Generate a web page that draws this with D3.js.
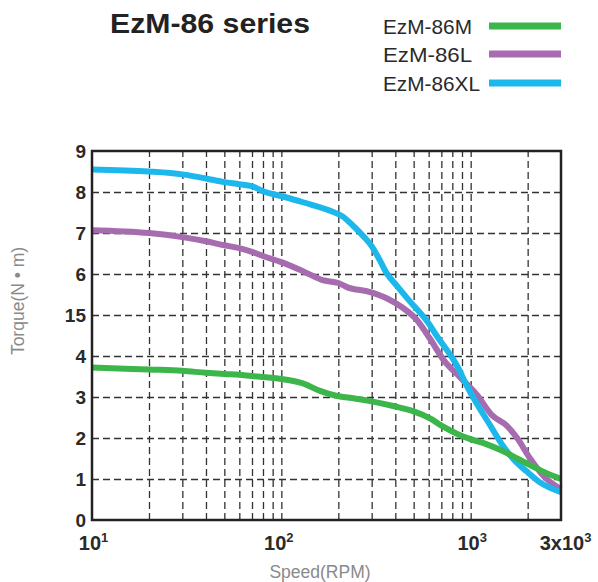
<!DOCTYPE html>
<html><head><meta charset="utf-8">
<script src="https://cdn.jsdelivr.net/npm/d3@7"></script>
<style>
html,body{margin:0;padding:0;background:#fff;}
svg{display:block;font-family:"Liberation Sans",Arial,Helvetica,sans-serif;}
</style></head>
<body>
<svg id="c" width="598" height="582"></svg>
<script>
// ---- data ----
const title = "EzM-86 series";
const seriesNames = ["EzM-86M", "EzM-86L", "EzM-86XL"];
const seriesColors = ["#3cb54a", "#a66caf", "#1cb8ec"];

const speedM  = [10, 20, 30, 40, 50, 60, 70, 80, 100, 130, 160, 195, 230, 295, 390, 500, 610, 720, 850, 990, 1210, 1480, 1760, 2060, 2420, 3000];
const torqueM = [3.72, 3.67, 3.64, 3.59, 3.56, 3.54, 3.51, 3.49, 3.44, 3.33, 3.15, 3.03, 2.98, 2.9, 2.78, 2.65, 2.48, 2.27, 2.1, 1.98, 1.85, 1.68, 1.5, 1.34, 1.18, 1.0];

const speedL  = [10, 20, 30, 40, 50, 60, 70, 80, 100, 130, 165, 200, 222, 295, 360, 440, 520, 610, 720, 880, 1080, 1300, 1550, 1760, 2060, 2420, 3000];
const torqueL = [7.07, 7.0, 6.9, 6.8, 6.7, 6.63, 6.54, 6.44, 6.29, 6.07, 5.85, 5.78, 5.68, 5.56, 5.41, 5.17, 4.88, 4.42, 3.9, 3.48, 3.05, 2.55, 2.3, 2.0, 1.5, 1.08, 0.75];

const speedXL  = [10, 20, 30, 40, 50, 60, 70, 80, 100, 130, 200, 210, 240, 270, 300, 330, 360, 410, 480, 590, 660, 850, 960, 1080, 1260, 1470, 1670, 1980, 2300, 3000];
const torqueXL = [8.55, 8.5, 8.43, 8.33, 8.24, 8.19, 8.14, 8.02, 7.9, 7.75, 7.46, 7.41, 7.17, 6.93, 6.68, 6.35, 6.02, 5.7, 5.32, 4.84, 4.5, 3.75, 3.25, 2.83, 2.33, 1.83, 1.5, 1.18, 0.93, 0.68];

const torqueTicks = [0, 1, 2, 3, 4, 5, 6, 7, 8, 9];
const torqueTickLabels = ["0", "1", "2", "3", "4", "15", "6", "7", "8", "9"];
const speedTicks = [10, 100, 1000, 3000];
const speedTickBase = ["10", "10", "10", "3x10"];
const speedTickExp = ["1", "2", "3", "3"];
const gridSpeeds = [20, 30, 40, 50, 60, 70, 80, 90, 100, 200, 300, 400, 500, 600, 700, 800, 900, 1000, 2000];
const gridTorques = [1, 2, 3, 4, 5, 6, 7, 8];
const xTitle = "Speed(RPM)";
const yTitle = "Torque(N • m)";

// ---- layout ----
const L = 92, R = 561, T = 151, B = 520;
const svg = d3.select("#c");
const x = d3.scaleLog().domain([10, 3000]).range([L, R]);
const y = d3.scaleLinear().domain([0, 9]).range([B, T]);

// grid
const gv = svg.append("g").attr("transform", `translate(0,${B})`)
  .call(d3.axisBottom(x).tickValues(gridSpeeds).tickSize(-(B - T)).tickFormat(""));
gv.select(".domain").remove();
gv.selectAll("line").attr("stroke", "#333").attr("stroke-width", 1.3).attr("stroke-dasharray", "7,4");

const gh = svg.append("g").attr("transform", `translate(${L},0)`)
  .call(d3.axisLeft(y).tickValues(gridTorques).tickSize(-(R - L)).tickFormat(""));
gh.select(".domain").remove();
gh.selectAll("line").attr("stroke", "#333").attr("stroke-width", 1.3).attr("stroke-dasharray", "7,4");

// curves
const series = [
  {s: speedL, t: torqueL, c: seriesColors[1]},
  {s: speedXL, t: torqueXL, c: seriesColors[2]},
  {s: speedM, t: torqueM, c: seriesColors[0]}
];
const gen = d3.line().x(d => x(d[0])).y(d => y(d[1])).curve(d3.curveMonotoneX);
series.forEach(se => {
  svg.append("path").datum(se.s.map((v, i) => [v, se.t[i]]))
    .attr("d", gen).attr("fill", "none").attr("stroke", se.c)
    .attr("stroke-width", 6).attr("stroke-linejoin", "round").attr("stroke-linecap", "butt");
});

// frame
svg.append("rect").attr("x", L).attr("y", T).attr("width", R - L).attr("height", B - T)
  .attr("fill", "none").attr("stroke", "#222").attr("stroke-width", 2.5);

// y tick labels
const ya = svg.append("g").attr("transform", `translate(${L},0)`)
  .call(d3.axisLeft(y).tickValues(torqueTicks).tickSize(0).tickPadding(6)
    .tickFormat((d, i) => torqueTickLabels[i]));
ya.select(".domain").remove();
ya.selectAll("text").attr("font-size", 19).attr("font-weight", "bold").attr("fill", "#2a2a2a")
  .attr("font-family", "Liberation Sans, Arial, sans-serif");

// x tick labels
const xa = svg.append("g").attr("transform", `translate(0,${B})`)
  .call(d3.axisBottom(x).tickValues(speedTicks).tickSize(0).tickFormat(""));
xa.select(".domain").remove();
xa.selectAll(".tick").each(function (d, i) {
  const t = d3.select(this).append("text").attr("y", 30).attr("fill", "#2a2a2a")
    .attr("font-size", 20).attr("font-weight", "bold")
    .attr("text-anchor", "middle")
    .attr("dx", i === 3 ? 4 : (i === 1 ? -3 : 1));
  t.append("tspan").text(speedTickBase[i]);
  t.append("tspan").attr("font-size", 13).attr("dy", -8).text(speedTickExp[i]);
});

// axis titles
svg.append("text").attr("x", 320).attr("y", 578).attr("text-anchor", "middle")
  .attr("font-size", 17.5).attr("fill", "#8a8a8a").text(xTitle);
svg.append("text").attr("transform", "translate(24,301) rotate(-90)").attr("text-anchor", "middle")
  .attr("font-size", 17.5).attr("fill", "#8a8a8a").text(yTitle);

// title
svg.append("text").attr("x", 110).attr("y", 33).attr("font-size", 28).attr("font-weight", "bold")
  .attr("fill", "#222").attr("textLength", 200).attr("lengthAdjust", "spacingAndGlyphs").text(title);

// legend
const legY = [26, 54, 83];
[0, 1, 2].forEach((k, i) => {
  svg.append("text").attr("x", 383).attr("y", legY[i] + 8).attr("font-size", 21)
    .attr("fill", "#2a2a2a").attr("textLength", k === 2 ? 97 : 89).attr("lengthAdjust", "spacingAndGlyphs")
    .text(seriesNames[k]);
  svg.append("line").attr("x1", 489).attr("x2", 561).attr("y1", legY[i]).attr("y2", legY[i])
    .attr("stroke", seriesColors[k]).attr("stroke-width", 7);
});
</script>
</body></html>
